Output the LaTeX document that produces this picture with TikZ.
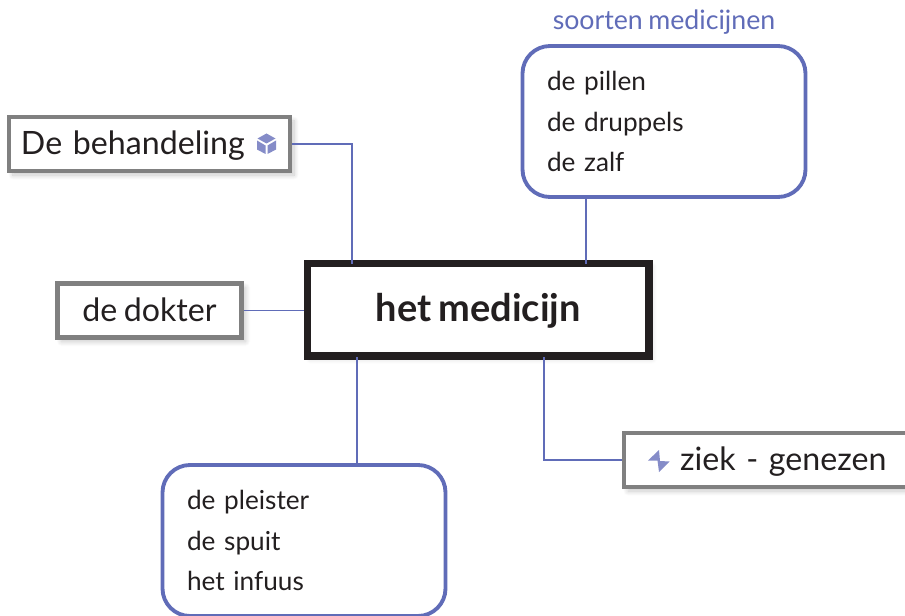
\documentclass[tikz,border=0pt]{standalone}
\usepackage{fontspec}
\setmainfont{Lato}[WordSpace=0.8]
\usetikzlibrary{positioning, calc, shadows.blur}
\definecolor{linkblue}{RGB}{96,108,184}
\definecolor{iconblue}{RGB}{133,140,200}
\definecolor{boxgray}{RGB}{128,128,128}
\definecolor{inkblack}{RGB}{35,31,32}

\begin{document}
\begin{tikzpicture}[x=0.2mm, y=-0.2mm]
  \tikzset{
    link/.style={draw=linkblue, line width=1.1pt},
    termbox/.style={draw=boxgray, line width=2.3pt, fill=white, text=inkblack, font=\fontsize{18.3}{22}\selectfont,
      minimum height=1.08cm, inner sep=0pt, text height=14pt, text depth=2pt,
      blur shadow={shadow blur steps=10, shadow blur radius=1mm, shadow xshift=0.8mm, shadow yshift=-0.8mm, shadow opacity=22}},
    mainbox/.style={draw=inkblack, line width=4.3pt, fill=white, text=inkblack, font=\fontsize{21.6}{26}\selectfont\bfseries,
      minimum width=6.83cm, minimum height=1.85cm, inner sep=0pt, text height=16pt, text depth=2.6pt,
      blur shadow={shadow blur steps=10, shadow blur radius=1mm, shadow xshift=0.6mm, shadow yshift=-0.6mm, shadow opacity=15}},
    listbox/.style={draw=linkblue, line width=2.2pt, rounded corners=0.55cm, fill=white, text=inkblack, align=left,
      font=\fontsize{14.9}{22.8}\selectfont, minimum width=5.66cm, minimum height=3.02cm, inner sep=0pt, text width=4.68cm},
    icon/.style={fill=iconblue, draw=none}
  }
  \useasboundingbox (0,0) rectangle (905,616);

  % Centre box
  \node[mainbox] (medicijn) at (478.3,309.8) {het medicijn};

  % Boxes around it
  \node[termbox, minimum width=5.62cm, text width=5.14cm] (behandeling) at (149.5,144) {De behandeling};
  \node[termbox, minimum width=3.68cm, align=center] (dokter) at (149.5,310.5) {de dokter};
  \node[termbox, minimum width=6.4cm, text width=5.76cm, anchor=west] (ziek) at (622,460) {\hspace*{0.8cm}ziek - genezen};
  \node[listbox] (pillen) at (664,121.5) {de pillen\\de druppels\\de zalf};
  \node[listbox] (pleister) at (304,540.5) {de pleister\\de spuit\\het infuus};
  \node[above=0.06cm of pillen, text=linkblue, font=\fontsize{15.2}{18}\selectfont] (soorten) {soorten medicijnen};

  % Where the connectors meet the centre box
  \coordinate (linkA) at (352,264);
  \coordinate (linkB) at (586,264);
  \coordinate (linkC) at (357,357);
  \coordinate (linkD) at (544,357);

  \draw[link] (behandeling.east) -| (linkA);
  \draw[link] (pillen.south -| linkB) -- (linkB);
  \draw[link] (dokter.east) -- (dokter.east -| medicijn.west);
  \draw[link] (linkC) -- (linkC |- pleister.north);
  \draw[link] (linkD) |- (ziek.west);

  % Small cube
  \fill[icon] (266.5,133.5) -- (275.5,138.5) -- (266.5,143.5) -- (257.5,138.5) -- cycle;
  \fill[icon] (257,140.5) -- (265.5,145.5) -- (265.5,154) -- (257,149.5) -- cycle;
  \fill[icon] (276,140.5) -- (267.5,145.5) -- (267.5,154) -- (276,149.5) -- cycle;

  % Small bolt
  \fill[icon] (659,450) -- (648,460.5) -- (657.5,460.5) -- (659,472) -- (669.5,461.5) -- (660,461) -- cycle;
\end{tikzpicture}
\end{document}
